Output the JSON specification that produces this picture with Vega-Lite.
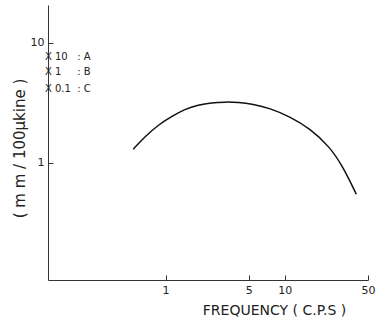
{
  "$schema": "https://vega.github.io/schema/vega-lite/v6.json",
  "width": 320,
  "height": 275,
  "autosize": "none",
  "padding": {"left": 48, "top": 5, "right": 17, "bottom": 45},
  "background": "white",
  "config": {
    "view": {"stroke": null},
    "font": "DejaVu Sans",
    "axis": {"grid": false, "domainColor": "#333", "tickColor": "#333", "labelColor": "#222", "titleColor": "#222", "labelFont": "DejaVu Sans", "titleFont": "DejaVu Sans", "titleFontWeight": "normal"}
  },
  "datasets": {
    "curve": [
      {"f": 0.535, "v": 1.293},
      {"f": 0.671, "v": 1.647},
      {"f": 0.867, "v": 2.06},
      {"f": 1.123, "v": 2.42},
      {"f": 1.451, "v": 2.79},
      {"f": 1.876, "v": 3.03},
      {"f": 2.43, "v": 3.16},
      {"f": 3.14, "v": 3.20},
      {"f": 4.06, "v": 3.19},
      {"f": 5.42, "v": 3.08},
      {"f": 7.48, "v": 2.84},
      {"f": 11.0, "v": 2.42},
      {"f": 16.2, "v": 1.93},
      {"f": 23.8, "v": 1.36},
      {"f": 30.8, "v": 0.926},
      {"f": 39.9, "v": 0.545}
    ],
    "legendLeft": [
      {"f": 0.097, "v": 7.6, "t": "X 10"},
      {"f": 0.097, "v": 5.7, "t": "X  1"},
      {"f": 0.097, "v": 4.1, "t": "X 0.1"}
    ],
    "legendRight": [
      {"f": 0.181, "v": 7.6, "t": ": A"},
      {"f": 0.181, "v": 5.7, "t": ": B"},
      {"f": 0.181, "v": 4.1, "t": ": C"}
    ]
  },
  "layer": [
    {
      "data": {"name": "curve"},
      "mark": {"type": "line", "color": "#111", "strokeWidth": 1.5, "interpolate": "basis", "clip": false},
      "encoding": {
        "x": {
          "field": "f", "type": "quantitative",
          "scale": {"type": "log", "domain": [0.103, 50], "nice": false},
          "axis": {"values": [1, 5, 10, 50], "tickSize": -5, "labelPadding": 9, "labelFontSize": 11, "title": "FREQUENCY ( C.P.S )", "titleFontSize": 14, "titleX": 226, "titleY": 23, "titleBaseline": "top", "titleAlign": "center", "labelFlush": false}
        },
        "y": {
          "field": "v", "type": "quantitative",
          "scale": {"type": "log", "domain": [0.105, 20.6], "nice": false},
          "axis": {"values": [1, 10], "tickSize": -5, "labelPadding": 9, "labelFontSize": 11, "title": "( m m / 100μkine )", "titleFontSize": 15, "titleX": -29, "titleY": 143, "titleBaseline": "middle", "titleAlign": "center", "labelFlush": false}
        }
      }
    },
    {
      "data": {"name": "legendLeft"},
      "mark": {"type": "text", "align": "left", "baseline": "middle", "fontSize": 10, "color": "#222", "clip": false},
      "encoding": {
        "x": {"field": "f", "type": "quantitative"},
        "y": {"field": "v", "type": "quantitative"},
        "text": {"field": "t"}
      }
    },
    {
      "data": {"name": "legendRight"},
      "mark": {"type": "text", "align": "left", "baseline": "middle", "fontSize": 10, "color": "#222", "clip": false},
      "encoding": {
        "x": {"field": "f", "type": "quantitative"},
        "y": {"field": "v", "type": "quantitative"},
        "text": {"field": "t"}
      }
    }
  ]
}
